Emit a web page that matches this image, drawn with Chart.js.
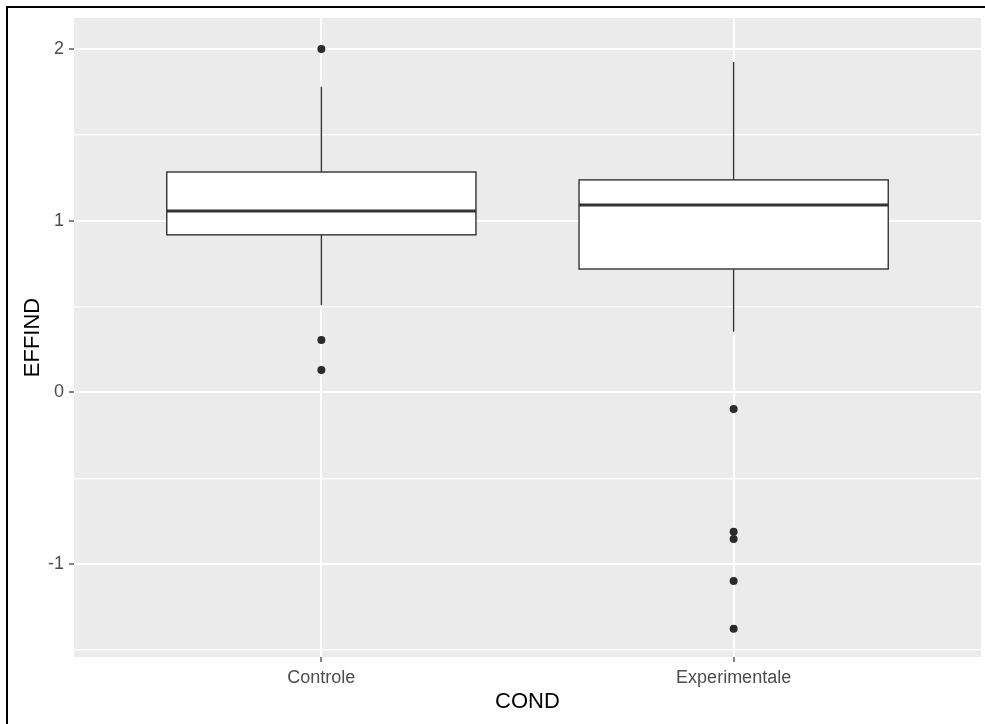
<!DOCTYPE html>
<html>
<head>
<meta charset="utf-8">
<script src="https://cdn.jsdelivr.net/npm/chart.js@4/dist/chart.umd.min.js"></script>
<style>
  html, body { margin: 0; padding: 0; background: #fff; }
  #wrap { position: relative; width: 985px; height: 724px; }
  #frame {
    position: absolute; left: 6px; top: 6px; width: 979px; height: 718px;
    border-left: 2px solid #000; border-top: 2px solid #000;
    box-sizing: border-box; pointer-events: none;
  }
</style>
</head>
<body>
<div id="wrap">
  <canvas id="chart"></canvas>
  <div id="frame"></div>
</div>
<script>
// box statistics per group
const categories = ['Controle', 'Experimentale'];
const lowerWhisker = [0.509, 0.353];
const q1 = [0.917, 0.718];
const median = [1.056, 1.091];
const q3 = [1.283, 1.237];
const upperWhisker = [1.779, 1.924];

// outlying points
const outliersControle = [2.0, 0.304, 0.13];
const outliersExperimentale = [-0.097, -0.812, -0.854, -1.099, -1.377];

// axis ticks
const yTicks = [-1.5, -1, -0.5, 0, 0.5, 1, 1.5, 2];
const yMin = -1.542;
const yMax = 2.18;

const FONT = "'Liberation Sans', Arial, sans-serif";
const INK = '#333333';

const outlierPoints = [];
outliersControle.forEach(v => outlierPoints.push({ x: 1, y: v }));
outliersExperimentale.forEach(v => outlierPoints.push({ x: 2, y: v }));

// grey panel behind the grid
const panelBg = {
  id: 'panelBg',
  beforeDraw(chart) {
    const { ctx, chartArea: a } = chart;
    ctx.save();
    ctx.fillStyle = '#EBEBEB';
    ctx.fillRect(a.left, a.top, a.right - a.left, a.bottom - a.top);
    ctx.restore();
  }
};

// boxes, whiskers and medians through the chart's scales
const boxes = {
  id: 'boxes',
  beforeDatasetsDraw(chart) {
    const { ctx, scales: { x, y } } = chart;
    ctx.save();
    ctx.strokeStyle = INK;
    categories.forEach((c, i) => {
      const cx = x.getPixelForValue(i + 1);
      const half = x.getPixelForValue(i + 1 + 0.375) - cx;
      const yLo = y.getPixelForValue(lowerWhisker[i]);
      const yQ1 = y.getPixelForValue(q1[i]);
      const yMed = y.getPixelForValue(median[i]);
      const yQ3 = y.getPixelForValue(q3[i]);
      const yHi = y.getPixelForValue(upperWhisker[i]);

      ctx.lineWidth = 1.4;
      ctx.beginPath();
      ctx.moveTo(cx, yHi); ctx.lineTo(cx, yQ3);
      ctx.moveTo(cx, yQ1); ctx.lineTo(cx, yLo);
      ctx.stroke();

      ctx.fillStyle = '#ffffff';
      ctx.fillRect(cx - half, yQ3, half * 2, yQ1 - yQ3);
      ctx.strokeRect(cx - half, yQ3, half * 2, yQ1 - yQ3);

      ctx.lineWidth = 3;
      ctx.beginPath();
      ctx.moveTo(cx - half, yMed); ctx.lineTo(cx + half, yMed);
      ctx.stroke();
    });
    ctx.restore();
  }
};

new Chart(document.getElementById('chart'), {
  type: 'scatter',
  data: {
    datasets: [{
      label: 'outliers',
      data: outlierPoints,
      pointRadius: 4,
      pointBackgroundColor: '#2b2b2b',
      pointBorderColor: '#2b2b2b',
      pointBorderWidth: 0
    }]
  },
  options: {
    responsive: true,
    maintainAspectRatio: false,
    animation: false,
    layout: { padding: { top: 18, right: 0, left: 0, bottom: 0 } },
    plugins: { legend: { display: false }, tooltip: { enabled: false } },
    scales: {
      x: {
        type: 'linear',
        min: 0.4,
        max: 2.6,
        afterBuildTicks: axis => { axis.ticks = categories.map((c, i) => ({ value: i + 1 })); },
        afterFit: axis => { axis.height = 67; },
        border: { display: false },
        grid: { color: '#ffffff', lineWidth: 2, tickColor: INK, tickWidth: 1.2, tickLength: 5 },
        ticks: {
          autoSkip: false,
          maxRotation: 0,
          padding: 5,
          color: '#4D4D4D',
          font: { family: FONT, size: 18 },
          callback: v => categories[Math.round(v) - 1]
        },
        title: {
          display: true, text: 'COND', color: '#000',
          font: { family: FONT, size: 22 }, padding: { top: 0, bottom: 9 }
        }
      },
      y: {
        type: 'linear',
        min: yMin,
        max: yMax,
        afterBuildTicks: axis => { axis.ticks = yTicks.map(v => ({ value: v })); },
        afterFit: axis => { axis.width = 74; },
        border: { display: false },
        grid: {
          color: '#ffffff',
          lineWidth: c => (Number.isInteger(c.tick.value) ? 2 : 1.2),
          tickColor: c => (Number.isInteger(c.tick.value) ? INK : 'rgba(0,0,0,0)'),
          tickWidth: 1.2,
          tickLength: 5
        },
        ticks: {
          autoSkip: false,
          padding: 5,
          color: '#4D4D4D',
          font: { family: FONT, size: 18 },
          callback: v => (Number.isInteger(v) ? String(v) : '')
        },
        title: {
          display: true, text: 'EFFIND', color: '#000',
          font: { family: FONT, size: 22 }, padding: { top: 20, bottom: 0 }
        }
      }
    }
  },
  plugins: [panelBg, boxes]
});
</script>
</body>
</html>
